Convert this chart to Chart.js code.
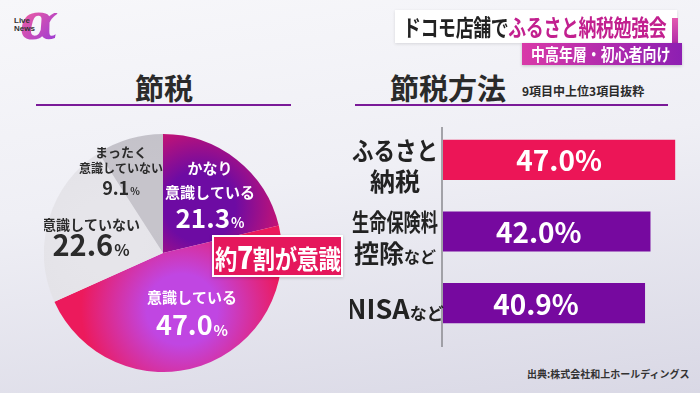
<!DOCTYPE html>
<html lang="ja">
<head>
<meta charset="utf-8">
<script src="https://cdn.jsdelivr.net/npm/chart.js@4.4.1/dist/chart.umd.min.js"></script>
<style>
  html, body { margin: 0; padding: 0; }
  body { font-family: "Noto Sans CJK JP", "Noto Sans", sans-serif; }
  #stage {
    position: relative; width: 700px; height: 393px; overflow: hidden;
    background: linear-gradient(172deg, #f7f7fa 0%, #efeff5 45%, #d9d8e5 100%);
  }
  .abs { position: absolute; white-space: nowrap; }
  .logo-a {
    left: 20px; top: -8px; font: italic bold 50px "DejaVu Serif", serif;
    background: linear-gradient(135deg, #f25ea0 20%, #9a3ad6 90%);
    -webkit-background-clip: text; background-clip: text; color: transparent;
  }
  .logo-t { left: 14px; top: 17px; font: bold 8px "Liberation Sans", sans-serif; line-height: 8px; color: #333; }
  .banner {
    left: 395px; top: 10px; width: 282px; height: 33px; background: #fff;
    box-shadow: 0 1px 3px rgba(0,0,0,0.12);
  }
  .banner-txt {
    left: 403px; top: 9px; font-weight: bold; font-size: 23px; color: #222;
    transform: scaleX(0.78); transform-origin: left center; letter-spacing: -0.5px;
  }
  .banner-txt span { color: #c2208f; }
  .stripe { left: 672px; top: 18px; width: 6px; height: 26px; background: linear-gradient(#e35ab0, #b02aa8); }
  .sub {
    left: 522px; top: 43px; width: 160px; height: 22px;
    background: linear-gradient(90deg, #d93aa8, #8d1fb2);
    box-shadow: 0 1px 3px rgba(0,0,0,0.2);
  }
  .sub-txt {
    left: 531px; top: 41px; font-weight: bold; font-size: 17px; color: #fff;
    transform: scaleX(0.82); transform-origin: left center;
  }
  .title { top: 66px; font-weight: bold; font-size: 29px; color: #2a2a2a; }
  .subtitle { left: 522px; top: 82px; font-weight: bold; font-size: 12px; color: #2a2a2a; }
  .rule { height: 2px; background: #7a1a98; top: 104px; }
  .callout {
    left: 212px; top: 235px; width: 127px; height: 38px;
    background: #e5175c; border: 2px solid #fff; box-shadow: 0 1px 3px rgba(0,0,0,0.2);
  }
  .callout-txt {
    left: 215px; top: 233px; font-weight: bold; font-size: 26px; color: #fff;
    transform: scaleX(0.86); transform-origin: left center; letter-spacing: -0.5px;
  }
  .callout-txt b { font-size: 31px; }
  .source {
    left: 527px; top: 366px; font-weight: bold; font-size: 10px; color: #333;
  }
  #pieWrap { position: absolute; left: 44px; top: 134px; width: 238px; height: 238px; }
  #barWrap { position: absolute; left: 350px; top: 120px; width: 345px; height: 232px; }
</style>
</head>
<body>
<div id="stage">
  <div class="abs logo-a">α</div>
  <div class="abs logo-t">Live<br>News</div>

  <div class="abs banner"></div>
  <div class="abs stripe"></div>
  <div class="abs banner-txt">ドコモ店舗で<span>ふるさと納税勉強会</span></div>
  <div class="abs sub"></div>
  <div class="abs sub-txt">中高年層・初心者向け</div>

  <div class="abs title" style="left:135px;">節税</div>
  <div class="abs rule" style="left:36px;width:255px;"></div>
  <div class="abs title" style="left:390px;">節税方法</div>
  <div class="abs subtitle">9項目中上位3項目抜粋</div>
  <div class="abs rule" style="left:355px;width:313px;"></div>

  <div id="pieWrap"><canvas id="pieChart" width="238" height="238"></canvas></div>
  <div id="barWrap"><canvas id="barChart" width="345" height="232"></canvas></div>

  <div class="abs callout"></div>
  <div class="abs callout-txt">約<b>7</b>割が意識</div>

  <div class="abs source">出典:株式会社和上ホールディングス</div>
</div>

<script>
/* ===== DATA ===== */
const pieLabels = ['かなり\n意識している', '意識している', '意識していない', 'まったく\n意識していない'];
const pieValues = [21.3, 47.0, 22.6, 9.1];

const barLabels = ['ふるさと\n納税', '生命保険料\n控除など', 'NISAなど'];
const barValues = [47.0, 42.0, 40.9];
const barAxisMax = 50;

/* ===== PIE STYLE ===== */
// inner / outer colours of each slice gradient
const pieInner = ['#6d0ba3', '#c046e2', '#e6e5ea', '#c6c4cb'];
const pieOuter = ['#ea1760', '#ec1a5c', '#e3e2e7', '#c2c0c8'];

function sliceFill(context) {
    const chart = context.chart;
    const area = chart.chartArea;
    const i = context.dataIndex;
    if (!area) return pieOuter[i];
    const cx = (area.left + area.right) / 2;
    const cy = (area.top + area.bottom) / 2;
    const r = Math.min(area.right - area.left, area.bottom - area.top) / 2;
    const total = pieValues.reduce((a, b) => a + b, 0);
    let before = 0;
    for (let k = 0; k < i; k++) before += pieValues[k];
    const mid = -Math.PI / 2 + (before + pieValues[i] / 2) / total * Math.PI * 2;
    const gx = cx + Math.cos(mid) * r * 0.5;
    const gy = cy + Math.sin(mid) * r * 0.5;
    const g = chart.ctx.createRadialGradient(gx, gy, 0, gx, gy, r * 0.85);
    g.addColorStop(0, pieInner[i]);
    g.addColorStop(0.35, pieInner[i]);
    g.addColorStop(1, pieOuter[i]);
    return g;
}

/* ===== PIE LABELS ===== */
// offsets from the pie centre for each slice's name lines and value
const pieLabelLayout = [
    { dx: 47, lines: [-85, -61], vy: -35, nameSize: 15, valSize: 26, color: '#ffffff' },
    { dx: 29, lines: [44], vy: 72, nameSize: 15, valSize: 27, color: '#ffffff' },
    { dx: -72, lines: [-28], vy: -8, nameSize: 14, valSize: 29, color: '#2b2b2b' },
    { dx: -42, lines: [-101, -85], vy: -65, nameSize: 12, valSize: 18, color: '#2b2b2b' }
];

function drawValue(ctx, x, y, value, size, color, pctScale) {
    const num = value.toFixed(1);
    ctx.fillStyle = color;
    ctx.textBaseline = 'middle';
    ctx.font = 'bold ' + size + 'px "Noto Sans CJK JP"';
    const wNum = ctx.measureText(num).width;
    const pSize = Math.round(size * pctScale);
    ctx.font = 'bold ' + pSize + 'px "Noto Sans CJK JP"';
    const wPct = ctx.measureText('%').width;
    let left = x - (wNum + wPct + 1) / 2;
    ctx.textAlign = 'left';
    ctx.font = 'bold ' + size + 'px "Noto Sans CJK JP"';
    ctx.fillText(num, left, y);
    ctx.font = 'bold ' + pSize + 'px "Noto Sans CJK JP"';
    ctx.fillText('%', left + wNum + 1, y + size * 0.18);
}

const pieLabelPlugin = {
    id: 'pieLabelPlugin',
    afterDatasetsDraw(chart) {
        const ctx = chart.ctx;
        const area = chart.chartArea;
        const cx = (area.left + area.right) / 2;
        const cy = (area.top + area.bottom) / 2;
        ctx.save();
        pieLabels.forEach((label, i) => {
            const lay = pieLabelLayout[i];
            const lines = label.split('\n');
            ctx.fillStyle = lay.color;
            ctx.textAlign = 'center';
            ctx.textBaseline = 'middle';
            lines.forEach((line, j) => {
                const size = (lines.length > 1 && j === 0 && i === 3) ? lay.nameSize + 1 : lay.nameSize;
                ctx.font = 'bold ' + size + 'px "Noto Sans CJK JP"';
                ctx.fillText(line, cx + lay.dx, cy + lay.lines[j]);
            });
            drawValue(ctx, cx + lay.dx, cy + lay.vy, pieValues[i], lay.valSize, lay.color, 0.55);
        });
        ctx.restore();
    }
};

/* ===== BAR LABELS ===== */
const barColors = ['#ec1557', '#76099f', '#76099f'];

function drawCategoryLine(ctx, text, cx, y, size, maxW) {
    let main = text, small = '';
    if (text.endsWith('など') && text.length > 2) {
        main = text.slice(0, -2);
        small = 'など';
    }
    const smallSize = Math.round(size * 0.62);
    ctx.font = 'bold ' + size + 'px "Noto Sans CJK JP"';
    let wMain = ctx.measureText(main).width;
    if (maxW && wMain > maxW) wMain = maxW;
    ctx.font = 'bold ' + smallSize + 'px "Noto Sans CJK JP"';
    const wSmall = small ? ctx.measureText(small).width : 0;
    const left = cx - (wMain + wSmall) / 2;
    ctx.textAlign = 'left';
    ctx.textBaseline = 'middle';
    ctx.fillStyle = '#222';
    ctx.font = 'bold ' + size + 'px "Noto Sans CJK JP"';
    ctx.fillText(main, left, y, wMain);
    if (small) {
        ctx.font = 'bold ' + smallSize + 'px "Noto Sans CJK JP"';
        ctx.fillText(small, left + wMain, y + size * 0.16);
    }
}

const barLabelPlugin = {
    id: 'barLabelPlugin',
    afterDatasetsDraw(chart) {
        const ctx = chart.ctx;
        const area = chart.chartArea;
        const yScale = chart.scales.y;
        const meta = chart.getDatasetMeta(0);
        ctx.save();

        // vertical axis line
        ctx.strokeStyle = '#8a8a8f';
        ctx.lineWidth = 1.5;
        ctx.beginPath();
        ctx.moveTo(area.left - 1, area.top + 3);
        ctx.lineTo(area.left - 1, area.bottom + 8);
        ctx.stroke();

        // category names
        const labelX = area.left - 48;
        barLabels.forEach((label, i) => {
            const y = yScale.getPixelForValue(i);
            const lines = label.split('\n');
            const size = lines.length > 1 ? 25 : 27;
            const gap = 31;
            const top = y + 6 - (lines.length - 1) * gap / 2;
            lines.forEach((line, j) => {
                drawCategoryLine(ctx, line, labelX, top + j * gap, (line.length >= 5 && !line.endsWith('など')) ? 24 : size, 86);
            });
        });

        // value labels inside bars
        meta.data.forEach((bar, i) => {
            const cx = (bar.x + bar.base) / 2 - (i === 0 ? 0 : 8);
            ctx.fillStyle = '#ffffff';
            ctx.textAlign = 'center';
            ctx.textBaseline = 'middle';
            ctx.font = 'bold 28px "Noto Sans CJK JP"';
            ctx.fillText(barValues[i].toFixed(1) + '%', cx, bar.y + 1);
        });
        ctx.restore();
    }
};

/* ===== INITIALIZE CHARTS ===== */
function initializeCharts() {
    new Chart(document.getElementById('pieChart').getContext('2d'), {
        type: 'pie',
        data: {
            labels: pieLabels,
            datasets: [{
                data: pieValues,
                backgroundColor: sliceFill,
                borderWidth: 0
            }]
        },
        options: {
            responsive: false,
            animation: false,
            layout: { padding: 0 },
            plugins: {
                legend: { display: false },
                tooltip: { enabled: false }
            }
        },
        plugins: [pieLabelPlugin]
    });

    new Chart(document.getElementById('barChart').getContext('2d'), {
        type: 'bar',
        data: {
            labels: barLabels,
            datasets: [{
                data: barValues,
                backgroundColor: barColors,
                borderWidth: 0,
                barPercentage: 0.56,
                categoryPercentage: 1
            }]
        },
        options: {
            indexAxis: 'y',
            responsive: false,
            animation: false,
            layout: { padding: { left: 93, right: 5, top: 4, bottom: 13 } },
            plugins: {
                legend: { display: false },
                tooltip: { enabled: false }
            },
            scales: {
                x: { min: 0, max: barAxisMax, display: false },
                y: { display: false }
            }
        },
        plugins: [barLabelPlugin]
    });
}

document.addEventListener('DOMContentLoaded', function() {
    initializeCharts();
});
</script>
</body>
</html>
